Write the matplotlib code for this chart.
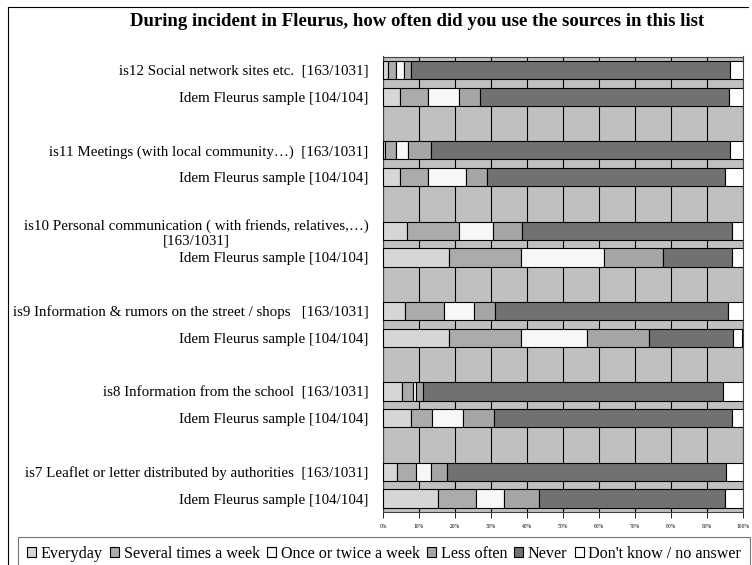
import matplotlib.pyplot as plt
from matplotlib.patches import Patch
from matplotlib.lines import Line2D

plt.rcParams['font.family'] = ['Liberation Serif', 'DejaVu Serif']

# answer categories and colours
categories = ['Everyday', 'Several times a week', 'Once or twice a week',
              'Less often', 'Never', "Don't know / no answer"]
colors = ['#d6d6d6', '#ababab', '#f7f7f7', '#a6a6a6', '#717171', '#ffffff']

# row labels, top to bottom
labels = [
    'is12 Social network sites etc.  [163/1031]',
    'Idem Fleurus sample [104/104]',
    'is11 Meetings (with local community\u2026)  [163/1031]',
    'Idem Fleurus sample [104/104]',
    'is10 Personal communication ( with friends, relatives,\u2026)\n[163/1031]',
    'Idem Fleurus sample [104/104]',
    'is9 Information & rumors on the street / shops   [163/1031]',
    'Idem Fleurus sample [104/104]',
    'is8 Information from the school  [163/1031]',
    'Idem Fleurus sample [104/104]',
    'is7 Leaflet or letter distributed by authorities  [163/1031]',
    'Idem Fleurus sample [104/104]',
]

# percentages per row (same order as labels)
everyday = [1.5, 4.8, 0.6, 4.8, 6.6, 18.3, 6.0, 18.3, 5.3, 7.7, 3.8, 15.4]
several = [2.0, 7.7, 2.9, 7.7, 14.6, 20.2, 11.1, 20.2, 3.1, 5.8, 5.4, 10.6]
once = [2.4, 8.7, 3.5, 10.6, 9.4, 23.1, 8.1, 18.3, 0.8, 8.7, 4.1, 7.7]
less_often = [1.9, 5.8, 6.3, 5.8, 8.0, 16.3, 6.0, 17.3, 1.8, 8.7, 4.4, 9.6]
never = [88.6, 69.2, 83.1, 66.3, 58.5, 19.2, 64.8, 23.2, 83.5, 66.3, 77.6, 51.9]
dont_know = [3.6, 3.8, 3.6, 4.8, 2.9, 2.9, 4.0, 2.6, 5.5, 2.9, 4.7, 4.8]

series = [everyday, several, once, less_often, never, dont_know]

# two rows per item, one empty slot between items
ypos = []
for i in range(len(labels)):
    ypos.append((i // 2) * 3 + i % 2)

fig = plt.figure(figsize=(7.52, 5.65), dpi=100)
ax = fig.add_axes([383 / 752, 1 - 512 / 565, 359.5 / 752, 455.5 / 565])
ax.set_facecolor('#c0c0c0')

left = [0.0] * len(labels)
for vals, col in zip(series, colors):
    ax.barh(ypos, vals, left=left, height=0.68, color=col,
            edgecolor='black', linewidth=0.8, zorder=3)
    left = [a + b for a, b in zip(left, vals)]

ax.set_xlim(0, 100)
ax.set_ylim(16.5, -0.5)
ax.set_xticks(range(0, 101, 10))
ax.set_xticklabels([f'{v}%' for v in range(0, 101, 10)], fontsize=4)
ax.xaxis.grid(True, color='black', linewidth=0.8)
ax.set_axisbelow(True)
ax.tick_params(axis='x', length=4, width=0.6, pad=5)

ax.set_yticks(ypos)
ax.set_yticklabels(labels, fontsize=10.8)
ax.tick_params(axis='y', length=0, pad=10.5)
for t in ax.get_yticklabels():
    t.set_multialignment('center')

for s in ax.spines.values():
    s.set_linewidth(0.8)
    s.set_color('#404040')

fig.text(417 / 752, 1 - 21 / 565, 'During incident in Fleurus, how often did you use the sources in this list',
         ha='center', va='center', fontsize=13.5, fontweight='bold')

# outer frame
fig.add_artist(Line2D([8 / 752, 8 / 752], [0, 1 - 7 / 565], transform=fig.transFigure,
                      color='black', linewidth=0.8))
fig.add_artist(Line2D([8 / 752, 748 / 752], [1 - 7 / 565, 1 - 7 / 565], transform=fig.transFigure,
                      color='black', linewidth=0.8))

handles = [Patch(facecolor=c, edgecolor='black', linewidth=0.8) for c in colors]
leg = fig.legend(handles, categories, loc='upper left',
                 bbox_to_anchor=(18 / 752, 1 - 537 / 565), ncol=6,
                 fontsize=11.6, frameon=True, fancybox=False,
                 edgecolor='#555555', handlelength=0.55, handleheight=0.55,
                 handletextpad=0.3, columnspacing=0.45, borderpad=0.55,
                 borderaxespad=0)
leg.get_frame().set_linewidth(0.8)

fig.savefig('out.png', dpi=100)
plt.close()
